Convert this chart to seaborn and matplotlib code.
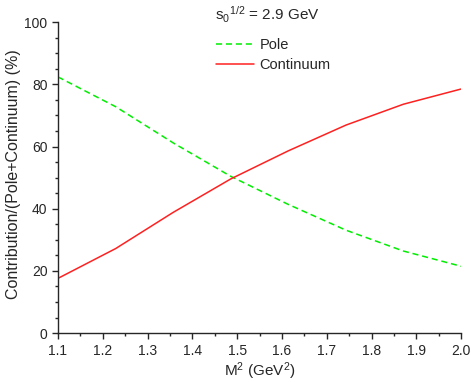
import numpy as np
import pandas as pd
import matplotlib
matplotlib.use("Agg")
import matplotlib.pyplot as plt
import seaborn as sns
from matplotlib.ticker import MultipleLocator
from matplotlib.lines import Line2D

m2 = [1.1, 1.229, 1.357, 1.486, 1.614, 1.743, 1.871, 2.0]
continuum = [17.6, 27.2, 38.8, 49.6, 58.6, 66.9, 73.6, 78.5]
pole = [82.4, 72.8, 61.2, 50.4, 41.4, 33.1, 26.4, 21.5]

sns.set_style("ticks")
plt.rcParams['font.family'] = ['Liberation Sans', 'DejaVu Sans']
plt.rcParams['mathtext.fontset'] = 'custom'
plt.rcParams['mathtext.rm'] = 'Liberation Sans'
plt.rcParams['mathtext.it'] = 'Liberation Sans'

df = pd.DataFrame({
    "M2": m2 + m2,
    "value": pole + continuum,
    "series": ["Pole"] * len(m2) + ["Continuum"] * len(m2),
})

fig = plt.figure(figsize=(4.71, 3.82), dpi=100)
ax = fig.add_axes([0.123, 0.128, 0.856, 0.814])
sns.lineplot(data=df, x="M2", y="value", hue="series", style="series",
             palette={"Pole": "#00ee00", "Continuum": "#ff2020"},
             dashes={"Pole": (4, 2.5), "Continuum": ""}, lw=1.1, ax=ax, legend=False)

ax.set_xlim(1.1, 2.0)
ax.set_ylim(0, 100)
ax.xaxis.set_major_locator(MultipleLocator(0.1))
ax.xaxis.set_minor_locator(MultipleLocator(0.05))
ax.yaxis.set_major_locator(MultipleLocator(20))
ax.yaxis.set_minor_locator(MultipleLocator(5))
ax.tick_params(which='major', length=4, width=1, labelsize=10, direction='out')
ax.tick_params(which='minor', length=2.5, width=1, direction='out')
for s in ['top', 'right']:
    ax.spines[s].set_visible(False)
for s in ['left', 'bottom']:
    ax.spines[s].set_linewidth(1)
ax.set_xlabel(r"M$^2$ (GeV$^2$)", fontsize=11, labelpad=2)
ax.set_ylabel("Contribution/(Pole+Continuum) (%)", fontsize=11.5)
ax.yaxis.set_label_coords(-0.092, 0.51)

handles = [Line2D([], [], color="#00ee00", lw=1.1, dashes=(4, 2.5)),
           Line2D([], [], color="#ff2020", lw=1.1)]
ax.legend(handles, ["Pole", "Continuum"], loc='upper left', bbox_to_anchor=(0.377, 0.968),
          frameon=False, fontsize=10.5, handlelength=2.6, handletextpad=0.4,
          labelspacing=0.4, borderpad=0.2, borderaxespad=0.2)
ax.text(0.39, 1.055, r"s$_0$$^{1/2}$ = 2.9 GeV", transform=ax.transAxes, fontsize=11,
        va='top', ha='left')

fig.savefig("out.png", dpi=100)
